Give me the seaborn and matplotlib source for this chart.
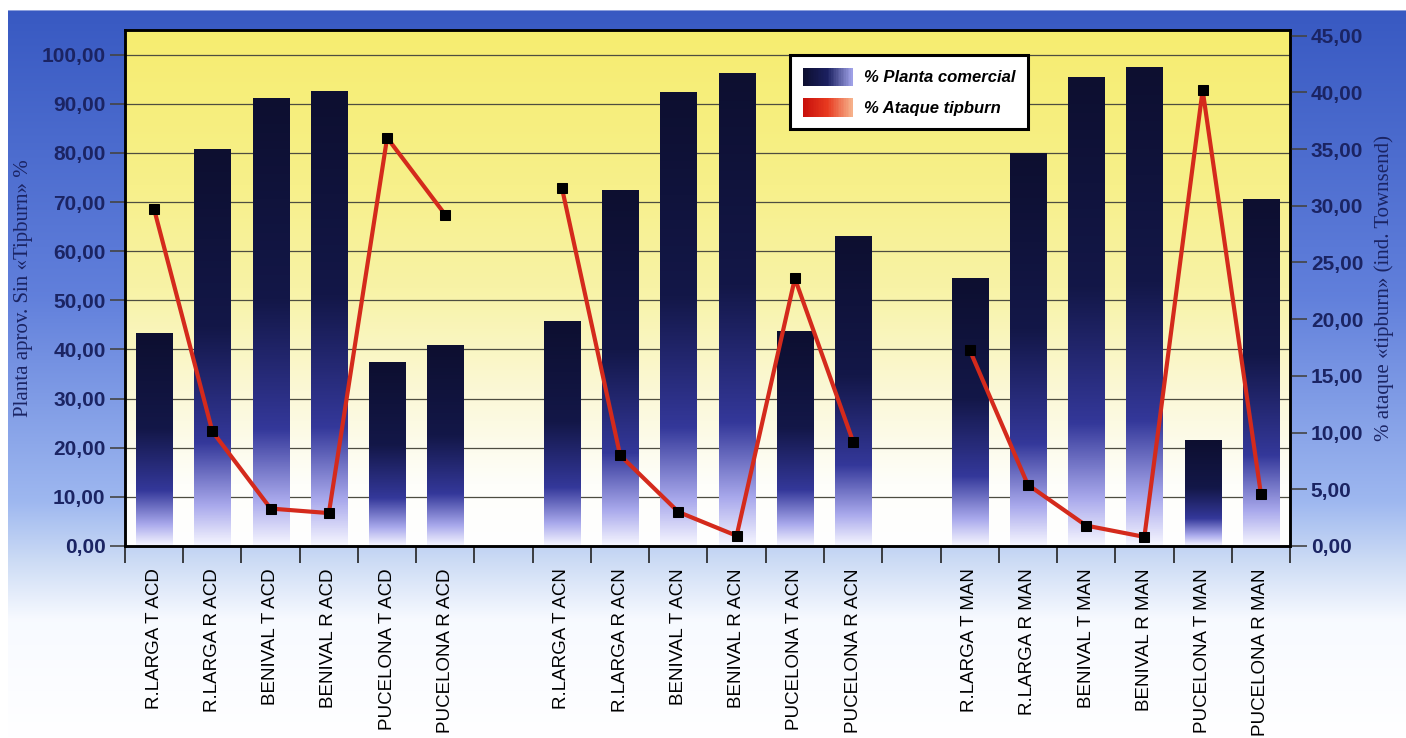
import numpy as np
import pandas as pd
import matplotlib
matplotlib.use("Agg")
import matplotlib.pyplot as plt
import seaborn as sns
from matplotlib.colors import LinearSegmentedColormap
from matplotlib.legend_handler import HandlerBase
from matplotlib.patches import Rectangle

# data
variedades = ["R.LARGA T", "R.LARGA R", "BENIVAL T", "BENIVAL R", "PUCELONA T", "PUCELONA R"]
grupos = ["ACD", "ACN", "MAN"]
planta_comercial = [
    43.2, 80.7, 91.0, 92.5, 37.3, 40.9,   # ACD
    45.6, 72.3, 92.3, 96.1, 43.6, 63.0,   # ACN
    54.4, 79.8, 95.3, 97.4, 21.4, 70.5,   # MAN
]
ataque_tipburn = [
    29.7, 10.1, 3.3, 2.9, 36.0, 29.2,
    31.6, 8.0, 3.0, 0.9, 23.6, 9.2,
    17.3, 5.4, 1.8, 0.8, 40.2, 4.6,
]

labels = [f"{v} {g}" for g in grupos for v in variedades]
grupo_col = [g for g in grupos for _ in variedades]
# empty slots between groups
order = labels[0:6] + [""] + labels[6:12] + [" "] + labels[12:18]

df = pd.DataFrame({"label": labels, "grupo": grupo_col,
                   "planta": planta_comercial, "ataque": ataque_tipburn})
df["pos"] = [order.index(l) for l in df["label"]]

navy = "#1b2463"
serif = ["Liberation Serif", "DejaVu Serif"]
plt.rcParams["font.family"] = ["Liberation Sans", "DejaVu Sans"]

fig = plt.figure(figsize=(14.06, 7.38), dpi=100)

# blue page background fading to white at the bottom
H, W = 738, 1406
yy = np.linspace(0, 1, H)
stops_y = [0.0, 0.013, 0.014, 0.4, 0.68, 0.76, 0.84, 1.0]
stops_c = np.array([[1, 1, 1], [1, 1, 1], [0.22, 0.35, 0.76], [0.38, 0.50, 0.86],
                    [0.62, 0.72, 0.94], [0.80, 0.86, 0.96], [0.97, 0.98, 1.0], [1, 1, 1]])
bg = np.stack([np.interp(yy, stops_y, stops_c[:, k]) for k in range(3)], axis=1)
bg = np.repeat(bg[:, None, :], W, axis=1)
bg[:, :8] = 1.0
bax = fig.add_axes([0, 0, 1, 1], zorder=-10)
bax.imshow(bg, aspect="auto", extent=(0, 1, 0, 1))
bax.axis("off")

ax = fig.add_axes([0.0889, 0.2602, 0.8286, 0.6991])

# yellow plot area gradient
yellow = LinearSegmentedColormap.from_list(
    "yel", [(0, "#ffffff"), (0.12, "#fefefa"), (0.3, "#fbf8d6"), (0.5, "#f8f3a6"),
            (0.7, "#f7f08a"), (1, "#f6ed70")])
ax.imshow(np.linspace(1, 0, 256)[:, None], cmap=yellow, aspect="auto",
          extent=(-0.5, len(order) - 0.5, 0, 105), zorder=0)

sns.barplot(data=df, x="label", y="planta", order=order, ax=ax, width=0.62,
            color=navy, zorder=2)

bar_cmap = LinearSegmentedColormap.from_list(
    "bar", [(0, "#0d0f30"), (0.45, "#131748"), (0.74, "#34389a"),
            (0.9, "#a9a9ec"), (1, "#f6f6ff")])
for p in list(ax.patches):
    x0, w, h = p.get_x(), p.get_width(), p.get_height()
    if not np.isfinite(h) or h <= 0:
        continue
    ax.imshow(np.linspace(0, 1, 256)[:, None], cmap=bar_cmap, aspect="auto",
              extent=(x0, x0 + w, 0, h), zorder=2)
    p.set_visible(False)

ax.set_xlim(-0.5, len(order) - 0.5)
ax.set_ylim(0, 105)
ax.set_yticks(np.arange(0, 101, 10))
ax.set_yticklabels([f"{v:.2f}".replace(".", ",") for v in np.arange(0, 101, 10)],
                   fontsize=15, color=navy, fontweight="bold")
ax.grid(axis="y", color="#4d4d40", linewidth=0.9, zorder=1)
ax.set_axisbelow(True)
ax.tick_params(axis="y", length=11, width=1.2, color="#444444", pad=3)

ax.set_xticks(range(len(order)))
ax.set_xticklabels(order, rotation=90, fontsize=13.5, va="top")
ax.set_xticks(np.arange(-0.5, len(order), 1), minor=True)
ax.tick_params(axis="x", which="major", length=0, pad=16)
ax.tick_params(axis="x", which="minor", length=12, width=1.2, color="#222222")
ax.set_xlabel("")
ax.set_ylabel("Planta aprov. Sin «Tipburn» %", family=serif, fontsize=15,
              color=navy, labelpad=6)
for s in ax.spines.values():
    s.set_color("black")
    s.set_linewidth(1.8)

# red line on the secondary axis, broken between groups
ax2 = ax.twinx()
sns.lineplot(data=df, x="pos", y="ataque", units="grupo", estimator=None, ax=ax2,
             color="#d42a1c", linewidth=3, marker="s", markersize=6.5,
             markerfacecolor="black", markeredgecolor="black", zorder=5)
ax2.set_xlim(-0.5, len(order) - 0.5)
ax2.set_ylim(0, 45.5)
ax2.set_yticks(np.arange(0, 46, 5))
ax2.set_yticklabels([f"{v:.2f}".replace(".", ",") for v in np.arange(0, 46, 5)],
                    fontsize=15, color=navy, fontweight="bold")
ax2.tick_params(axis="y", length=12, width=1.2, color="#444444", pad=3)
ax2.set_xlabel("")
ax2.set_ylabel("% ataque «tipburn» (ind. Townsend)", family=serif, fontsize=15,
               color=navy, rotation=90, labelpad=8)
for s in ax2.spines.values():
    s.set_color("black")
    s.set_linewidth(1.8)


class GradHandler(HandlerBase):
    def __init__(self, cmap):
        super().__init__()
        self.cmap = cmap

    def create_artists(self, legend, orig_handle, xdescent, ydescent,
                       width, height, fontsize, trans):
        n = 30
        arts = []
        for i in range(n):
            arts.append(Rectangle((-xdescent + width * i / n, -ydescent),
                                  width / n * 1.08, height,
                                  facecolor=self.cmap(i / (n - 1)),
                                  edgecolor="none", transform=trans))
        return arts


h1 = Rectangle((0, 0), 1, 1)
h2 = Rectangle((0, 0), 1, 1)
leg_blue = LinearSegmentedColormap.from_list("lb", ["#0d0f30", "#1b2060", "#9ea0e6"])
leg_red = LinearSegmentedColormap.from_list("lr", ["#c8100c", "#e83a20", "#f6b08a"])
leg = ax2.legend([h1, h2], ["% Planta comercial", "% Ataque tipburn"],
                 handler_map={h1: GradHandler(leg_blue), h2: GradHandler(leg_red)},
                 loc="upper left", bbox_to_anchor=(0.571, 0.951), borderaxespad=0,
                 fancybox=False, framealpha=1, edgecolor="black", handlelength=3.0,
                 handleheight=1.3, handletextpad=0.7, labelspacing=0.75, borderpad=0.75,
                 prop={"weight": "bold", "style": "italic", "size": 12})
leg.get_frame().set_linewidth(2.2)

fig.savefig("out.png", dpi=100)
plt.close(fig)
